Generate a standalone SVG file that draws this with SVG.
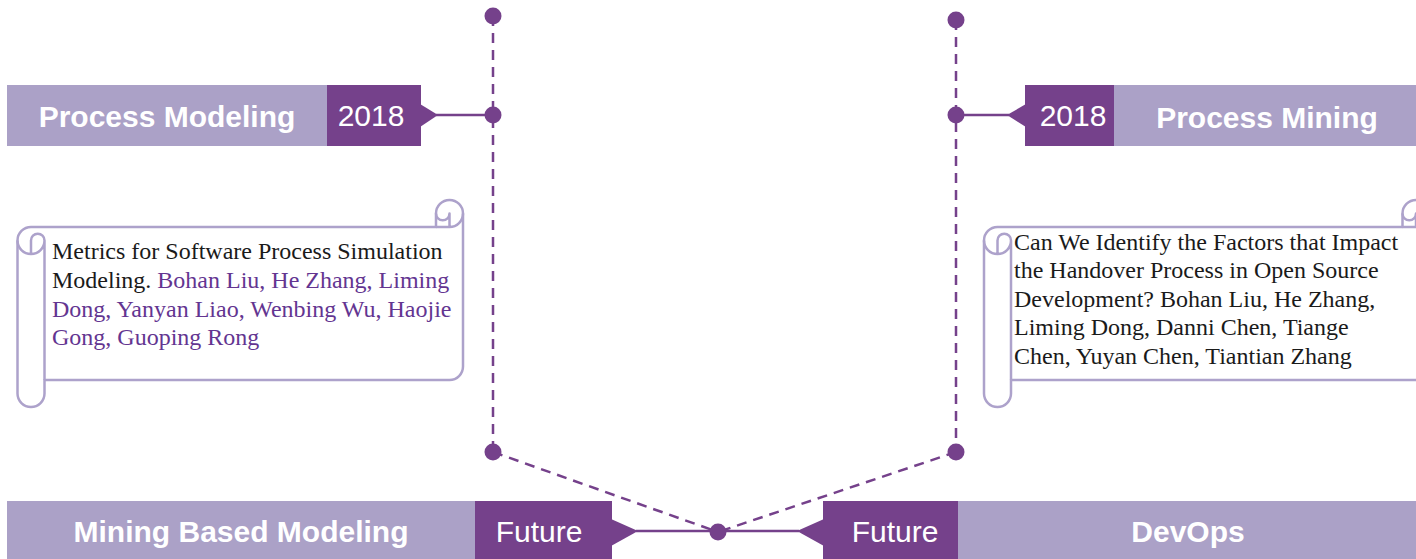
<svg xmlns="http://www.w3.org/2000/svg" width="1416" height="559" viewBox="0 0 1416 559">
<style>
.light{fill:#ABA1C7}
.dark{fill:#75418B}
.hdr{font-family:"Liberation Sans",Arial,sans-serif;font-weight:bold;font-size:30px;fill:#fff;text-anchor:middle}
.yr{font-family:"Liberation Sans",Arial,sans-serif;font-size:30px;fill:#fff;text-anchor:middle}
.dash{stroke:#75418B;stroke-width:2.5;stroke-dasharray:10 7;fill:none}
.solid{stroke:#75418B;stroke-width:2.5;fill:none}
.dot{fill:#75418B}
.scroll{fill:#fff;stroke:#ADA2CB;stroke-width:2.5;stroke-linejoin:round}
.curl{fill:none;stroke:#ADA2CB;stroke-width:2.5;stroke-linejoin:round}
.body{font-family:"Liberation Serif","Times New Roman",serif;font-size:24px;fill:#1a1a1a}
.auth{fill:#633591}
</style>
<defs>
<g id="scrollShape">
<path class="scroll" d="M17.5 240.5A13.5 13.5 0 0 1 31 227L436 227L436 213.5A13.5 13.5 0 0 1 463 213.5L463 366.5A13.5 13.5 0 0 1 449.5 380L44.5 380L44.5 393.5A13.5 13.5 0 0 1 17.5 393.5Z"/>
<path class="curl" d="M436 227L449.5 227A13.5 13.5 0 0 0 463 213.5M449.5 227L449.5 213.5A6.75 6.75 0 0 1 436 213.5M31 254L31 240.5A6.75 6.75 0 0 1 44.5 240.5A13.5 13.5 0 0 1 17.5 240.5M44.5 240.5L44.5 380"/>
</g>
</defs>

<g id="connectors">
<line class="dash" x1="493" y1="16" x2="493" y2="452"/>
<line class="dash" x1="956" y1="20" x2="956" y2="452"/>
<line class="dash" x1="493" y1="452" x2="718" y2="532"/>
<line class="dash" x1="956" y1="452" x2="718" y2="532"/>
<line class="solid" x1="436" y1="115" x2="493" y2="115"/>
<line class="solid" x1="956" y1="115" x2="1009" y2="115"/>
<line class="solid" x1="636" y1="531" x2="799" y2="531"/>
</g>

<g id="dots">
<circle class="dot" cx="493" cy="16" r="8.5"/>
<circle class="dot" cx="493" cy="115" r="8.5"/>
<circle class="dot" cx="493" cy="452" r="8.5"/>
<circle class="dot" cx="956" cy="20" r="8.5"/>
<circle class="dot" cx="956" cy="115" r="8.5"/>
<circle class="dot" cx="956" cy="452" r="8.5"/>
<circle class="dot" cx="718" cy="532" r="8.5"/>
</g>

<g id="node-process-modeling">
<rect class="light" x="7" y="85" width="320" height="61"/>
<rect class="dark" x="327" y="85" width="94" height="61"/>
<polygon class="dark" points="420,104 438,115 420,127"/>
<text class="hdr" x="167" y="126.5">Process Modeling</text>
<text class="yr" x="371" y="126">2018</text>
</g>

<g id="node-process-mining">
<rect class="light" x="1114" y="85" width="302" height="61"/>
<rect class="dark" x="1025" y="85" width="89" height="61"/>
<polygon class="dark" points="1026,104 1007,115 1026,127"/>
<text class="hdr" x="1267" y="127.5">Process Mining</text>
<text class="yr" x="1073" y="126">2018</text>
</g>

<g id="node-mining-based-modeling">
<rect class="light" x="7" y="501" width="468" height="58"/>
<rect class="dark" x="475" y="501" width="137" height="58"/>
<polygon class="dark" points="611,519 638,531 611,546"/>
<text class="hdr" x="241" y="542">Mining Based Modeling</text>
<text class="yr" x="539" y="542">Future</text>
</g>

<g id="node-devops">
<rect class="light" x="958" y="501" width="458" height="58"/>
<rect class="dark" x="823" y="501" width="135" height="58"/>
<polygon class="dark" points="824,519 797,531 824,546"/>
<text class="hdr" x="1188" y="542">DevOps</text>
<text class="yr" x="895" y="542">Future</text>
</g>

<g id="node-scroll-left">
<use href="#scrollShape"/>
<text class="body">
<tspan x="52" y="258.5">Metrics for Software Process Simulation</tspan>
<tspan x="52" y="287.5">Modeling. <tspan class="auth">Bohan Liu, He Zhang, Liming</tspan></tspan>
<tspan class="auth" x="52" y="316.5">Dong, Yanyan Liao, Wenbing Wu, Haojie</tspan>
<tspan class="auth" x="52" y="345">Gong, Guoping Rong</tspan>
</text>
</g>

<g id="node-scroll-right">
<use href="#scrollShape" transform="translate(966.5,0)"/>
<text class="body">
<tspan x="1014" y="249.5">Can We Identify the Factors that Impact</tspan>
<tspan x="1014" y="278">the Handover Process in Open Source</tspan>
<tspan x="1014" y="306.5">Development? Bohan Liu, He Zhang,</tspan>
<tspan x="1014" y="335">Liming Dong, Danni Chen, Tiange</tspan>
<tspan x="1014" y="363.5">Chen, Yuyan Chen, Tiantian Zhang</tspan>
</text>
</g>
</svg>
